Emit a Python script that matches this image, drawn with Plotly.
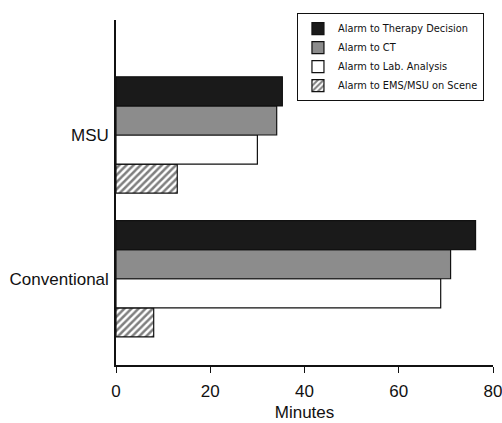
import plotly.graph_objects as go

categories = ["Conventional", "MSU"]
series_names = ["Alarm to Therapy Decision", "Alarm to CT", "Alarm to Lab. Analysis", "Alarm to EMS/MSU on Scene"]
therapy = [76.3, 35.3]
ct = [71.0, 34.1]
lab = [68.9, 30.0]
scene = [8.0, 13.0]
x_ticks = [0, 20, 40, 60, 80]

fig = go.Figure()
styles = [
    dict(color="#1a1a1a", pattern=None),
    dict(color="#8c8c8c", pattern=None),
    dict(color="white", pattern=None),
    dict(color="white", pattern=dict(shape="/", fgcolor="#000000", bgcolor="white", size=5, solidity=0.5)),
]
data = [therapy, ct, lab, scene]
# add in reverse so the first series sits at the top of each horizontal group
for name, vals, st in reversed(list(zip(series_names, data, styles))):
    marker = dict(color=st["color"], line=dict(color="#111111", width=1.2))
    if st["pattern"]:
        marker["pattern"] = st["pattern"]
    fig.add_trace(go.Bar(y=categories, x=vals, name=name, orientation="h", marker=marker))

fig.update_layout(
    width=502, height=423,
    margin=dict(l=116, r=9, t=20, b=58, autoexpand=False),
    paper_bgcolor="white", plot_bgcolor="white",
    barmode="group", bargap=0.19, bargroupgap=0,
    font=dict(family="Arial, Liberation Sans, sans-serif", size=17, color="#111111"),
    showlegend=True,
    legend=dict(
        x=0.48, y=1.02, xanchor="left", yanchor="top",
        bordercolor="#111111", borderwidth=1, bgcolor="white",
        font=dict(size=9.8, family="DejaVu Sans, Arial, sans-serif"), traceorder="reversed",
        itemwidth=30, tracegroupgap=0,
    ),
    xaxis=dict(
        range=[0, 80], tickvals=x_ticks, ticktext=[str(t) for t in x_ticks],
        showgrid=False, zeroline=False, showline=True, linecolor="#111111", linewidth=1.5,
        ticks="outside", ticklen=6, tickcolor="#111111", automargin=False,
        ticklabelstandoff=4, ticklabeloverflow="allow",
        title=dict(text="Minutes", standoff=6, font=dict(size=17)),
    ),
    yaxis=dict(
        range=[-0.6, 1.8], showgrid=False, zeroline=False, showline=True,
        linecolor="#111111", linewidth=1.5, ticks="", autorange=False, automargin=False,
        categoryorder="array", categoryarray=categories, ticklabelstandoff=2,
    ),
)
fig.write_html("out.html", config={"displayModeBar": False},
               post_script="document.body.style.margin='0';")
